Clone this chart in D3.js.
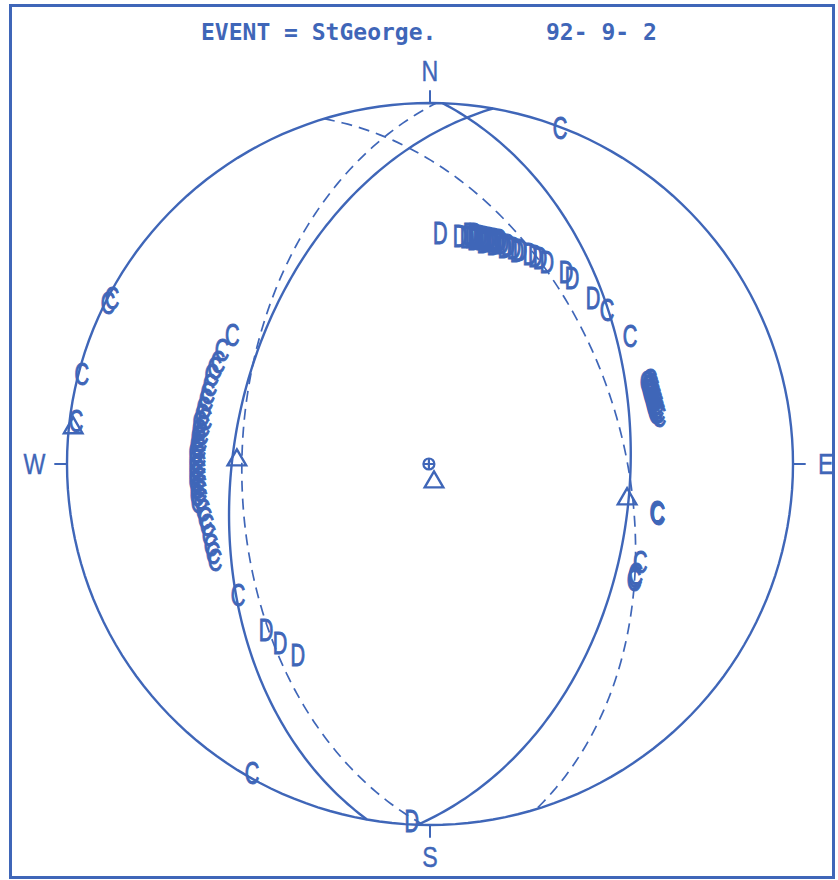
<!DOCTYPE html>
<html>
<head>
<meta charset="utf-8">
<script src="https://cdn.jsdelivr.net/npm/d3@7"></script>
<style>
  body { margin: 0; background: #fff; }
  svg { display: block; }
</style>
</head>
<body>
<svg id="chart"></svg>
<script>
const eventLabel = 'EVENT = StGeorge.';
const dateLabel = '92- 9- 2';
const compassLabels = ['N', 'E', 'S', 'W'];
const compassAzimuths = [0, 90, 180, 270];

// nodal planes, strike / dip in degrees (right-hand rule)
const solidStrikes = [2, 190];
const solidDips = [44, 45];
const dashedStrikes = [343, 181];
const dashedDips = [46, 47];

// first motions, position on the unit net [east, north]
const compressions = [
  [0.358, 0.931],
  [-0.876, 0.460], [-0.887, 0.446],
  [-0.959, 0.249],
  [-0.975, 0.119],
  [0.488, 0.427],
  [0.551, 0.355],
  [-0.490, -0.856],
  [-0.529, -0.363],
  [0.625, -0.133], [0.628, -0.139], [0.627, -0.136],
  [0.579, -0.271], [0.567, -0.305], [0.562, -0.321], [0.565, -0.312],
  [0.606, 0.233], [0.609, 0.222], [0.612, 0.211], [0.614, 0.199], [0.617, 0.188],
  [0.620, 0.177], [0.623, 0.166], [0.625, 0.155], [0.628, 0.144], [0.631, 0.133],
  [0.598, 0.228], [0.601, 0.216], [0.604, 0.205], [0.607, 0.194], [0.610, 0.183],
  [0.613, 0.172], [0.616, 0.161], [0.619, 0.150], [0.622, 0.140],
  [-0.545, 0.357], [-0.573, 0.316], [-0.584, 0.283], [-0.601, 0.247], [-0.606, 0.219],
  [-0.617, 0.177], [-0.623, 0.155], [-0.628, 0.136], [-0.634, 0.116], [-0.636, 0.094],
  [-0.639, 0.075], [-0.642, 0.053], [-0.645, 0.033], [-0.645, 0.011], [-0.645, -0.008],
  [-0.645, -0.028], [-0.645, -0.047], [-0.642, -0.066], [-0.642, -0.086], [-0.639, -0.105],
  [-0.625, -0.127], [-0.620, -0.150], [-0.614, -0.169], [-0.609, -0.197], [-0.603, -0.224],
  [-0.598, -0.247], [-0.592, -0.266],
  [-0.620, 0.126], [-0.626, 0.104], [-0.630, 0.084], [-0.634, 0.063], [-0.637, 0.043],
  [-0.637, 0.022], [-0.637, 0.000], [-0.637, -0.018], [-0.637, -0.038], [-0.635, -0.057],
  [-0.634, -0.076], [-0.632, -0.096], [-0.612, 0.198], [-0.593, 0.265]
];

const dilatations = [
  [0.028, 0.640],
  [0.083, 0.632], [0.102, 0.629], [0.116, 0.629], [0.129, 0.626], [0.143, 0.623],
  [0.157, 0.620], [0.171, 0.618], [0.185, 0.615], [0.198, 0.612], [0.215, 0.607],
  [0.231, 0.598], [0.248, 0.593], [0.275, 0.582], [0.303, 0.571], [0.322, 0.560],
  [0.110, 0.638], [0.124, 0.636], [0.138, 0.632], [0.150, 0.628], [0.164, 0.626],
  [0.178, 0.622], [0.192, 0.620], [0.122, 0.622], [0.148, 0.616], [0.176, 0.610],
  [0.206, 0.602], [0.240, 0.590], [0.290, 0.576],
  [0.375, 0.532], [0.391, 0.515], [0.449, 0.460],
  [-0.452, -0.460], [-0.413, -0.496], [-0.364, -0.529],
  [-0.050, -0.989]
];

const triangles = [[-0.532, 0.011], [0.543, -0.097], [-0.983, 0.100], [0.011, -0.050]];
const crossMarks = [[-0.003, 0.0]];

const width = 838;
const height = 880;
const color = '#3f66b8';
const letterFont = '"Liberation Sans", Arial, sans-serif';

const svg = d3.select('#chart')
  .attr('width', width)
  .attr('height', height);

const x = d3.scaleLinear().domain([-1, 1]).range([67, 793]);
const y = d3.scaleLinear().domain([-1, 1]).range([825, 103]);

const rad = Math.PI / 180;

// equal-area, lower hemisphere
function project(trend, plunge) {
  const r = Math.SQRT2 * Math.sin((90 - plunge) * rad / 2);
  return [r * Math.sin(trend * rad), r * Math.cos(trend * rad)];
}

function planePoints(strike, dip) {
  const pts = [];
  const s = strike * rad;
  const dd = (strike + 90) * rad;
  const d = dip * rad;
  for (let a = 0; a <= 180; a += 1) {
    const c = Math.cos(a * rad);
    const sn = Math.sin(a * rad);
    const e = c * Math.sin(s) + sn * Math.cos(d) * Math.sin(dd);
    const n = c * Math.cos(s) + sn * Math.cos(d) * Math.cos(dd);
    const down = sn * Math.sin(d);
    const plunge = Math.asin(Math.min(1, down)) / rad;
    const trend = Math.atan2(e, n) / rad;
    pts.push(project(trend, plunge));
  }
  return pts;
}

const line = d3.line()
  .x((d) => x(d[0]))
  .y((d) => y(d[1]));

// frame
svg.append('rect')
  .attr('x', 10.5)
  .attr('y', 5.5)
  .attr('width', 823)
  .attr('height', 872)
  .attr('fill', 'none')
  .attr('stroke', color)
  .attr('stroke-width', 3);

// title
svg.append('text')
  .attr('x', 201)
  .attr('y', 40)
  .style('font-family', '"DejaVu Sans Mono", monospace')
  .style('font-size', '23px')
  .style('font-weight', 'bold')
  .attr('fill', color)
  .text(eventLabel);

svg.append('text')
  .attr('x', 546)
  .attr('y', 40)
  .style('font-family', '"DejaVu Sans Mono", monospace')
  .style('font-size', '23px')
  .style('font-weight', 'bold')
  .style('white-space', 'pre')
  .attr('fill', color)
  .text(dateLabel);

// primitive circle
const unitCircle = d3.range(0, 361, 2).map((t) => project(t, 0));
svg.append('path')
  .attr('d', line(unitCircle))
  .attr('fill', 'none')
  .attr('stroke', color)
  .attr('stroke-width', 2.4);

// compass ticks and letters
compassAzimuths.forEach((az, i) => {
  const sx = Math.sin(az * rad);
  const sy = Math.cos(az * rad);
  svg.append('line')
    .attr('x1', x(sx)).attr('y1', y(sy))
    .attr('x2', x(sx * 1.035)).attr('y2', y(sy * 1.035))
    .attr('stroke', color)
    .attr('stroke-width', 2);
  svg.append('text')
    .attr('transform', `translate(${x(sx * 1.09)},${y(sy * 1.09)}) scale(0.8,1)`)
    .attr('y', 10)
    .attr('text-anchor', 'middle')
    .style('font-family', letterFont)
    .style('font-size', '29px')
    .attr('fill', color)
    .attr('stroke', color)
    .attr('stroke-width', 0.4)
    .text(compassLabels[i]);
});

// nodal planes
solidStrikes.forEach((s, i) => {
  svg.append('path')
    .attr('d', line(planePoints(s, solidDips[i])))
    .attr('fill', 'none')
    .attr('stroke', color)
    .attr('stroke-width', 2.4);
});

dashedStrikes.forEach((s, i) => {
  svg.append('path')
    .attr('d', line(planePoints(s, dashedDips[i])))
    .attr('fill', 'none')
    .attr('stroke', color)
    .attr('stroke-width', 1.7)
    .attr('stroke-dasharray', '11,7');
});

// polarity letters
function drawLetters(data, letter) {
  svg.append('g')
    .selectAll('text')
    .data(data)
    .enter().append('text')
    .attr('transform', (d) => `translate(${x(d[0])},${y(d[1])}) scale(0.65,1)`)
    .attr('y', 11)
    .attr('text-anchor', 'middle')
    .style('font-family', letterFont)
    .style('font-size', '31px')
    .attr('fill', color)
    .attr('stroke', color)
    .attr('stroke-width', 1)
    .text(letter);
}
drawLetters(compressions, 'C');
drawLetters(dilatations, 'D');

// triangles
svg.append('g')
  .selectAll('path')
  .data(triangles)
  .enter().append('path')
  .attr('transform', (d) => `translate(${x(d[0])},${y(d[1])})`)
  .attr('d', d3.symbol().type(d3.symbolTriangle).size(150))
  .attr('fill', 'none')
  .attr('stroke', color)
  .attr('stroke-width', 2.4);

// circle with cross
const cm = svg.append('g')
  .selectAll('g')
  .data(crossMarks)
  .enter().append('g')
  .attr('transform', (d) => `translate(${x(d[0])},${y(d[1])})`);
cm.append('circle')
  .attr('r', 5.5)
  .attr('fill', 'none')
  .attr('stroke', color)
  .attr('stroke-width', 2.2);
cm.append('path')
  .attr('d', 'M-5.5,0H5.5M0,-5.5V5.5')
  .attr('stroke', color)
  .attr('stroke-width', 2.2);
</script>
</body>
</html>
